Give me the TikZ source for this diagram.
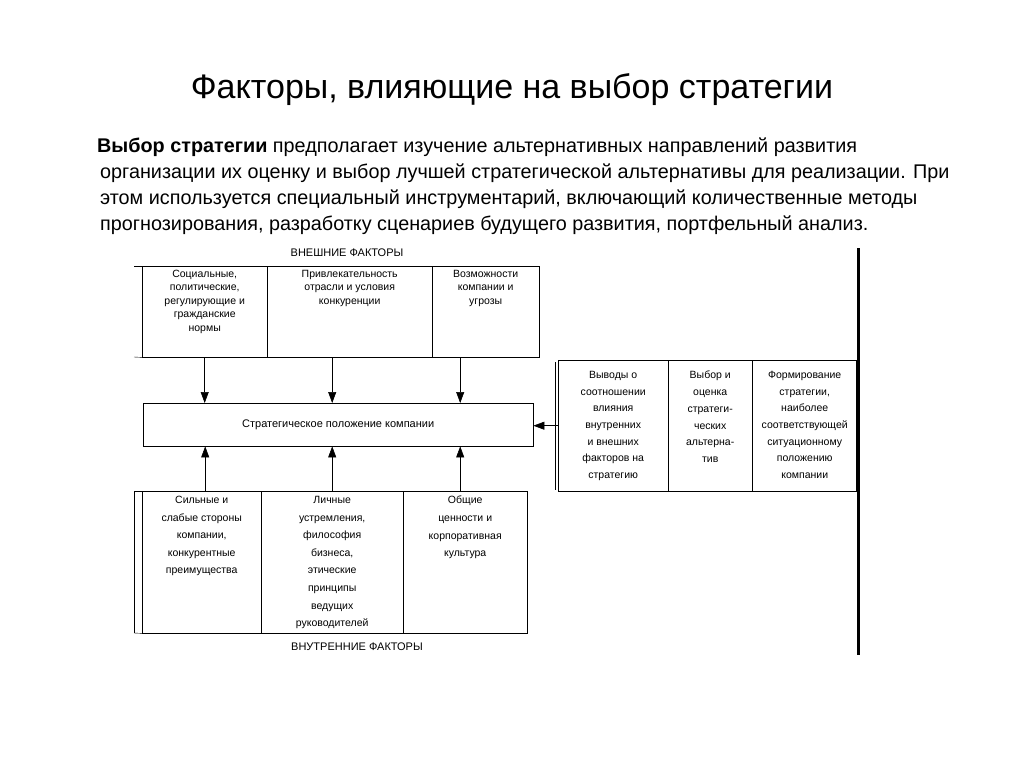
\documentclass[tikz,border=0pt]{standalone}
\usepackage{fontspec}
\setmainfont{Liberation Sans}
\usepackage{tikz}
\usetikzlibrary{arrows.meta,positioning}
\tikzstyle{arrow} = [semithick,-{Triangle[length=11pt,width=8pt]}]
\tikzstyle{cell} = [draw, anchor=north west, inner sep=0pt]
\tikzstyle{cell_text} = [inner sep=0pt, align=center, font=\fontsize{10.5}{16.7}\selectfont]
\tikzstyle{cell_text_tight} = [inner sep=0pt, align=center, font=\fontsize{10.5}{13.4}\selectfont]
\tikzstyle{cell_text_loose} = [inner sep=0pt, align=center, font=\fontsize{10.5}{17.6}\selectfont]
\tikzstyle{par_line} = [anchor=base west, inner sep=0pt, font=\fontsize{19.8}{26}\selectfont]
\tikzstyle{group_label} = [inner sep=0pt, font=\fontsize{11}{13}\selectfont]

\begin{document}
\begin{tikzpicture}[x=1pt, y=-1pt]
        \useasboundingbox (0,0) rectangle (1024,768);

        % heading and text
        \node (title) [anchor=base, inner sep=0pt, font=\fontsize{34}{40}\selectfont] at (512,98) {Факторы, влияющие на выбор стратегии};
        \node (par_1) [par_line] at (97,152) {\textbf{Выбор стратегии} предполагает изучение альтернативных направлений развития};
        \node (par_2) [par_line] at (100,178) {организации их оценку и выбор лучшей стратегической альтернативы для реализации. При};
        \node (par_3) [par_line] at (100,204) {этом используется специальный инструментарий, включающий количественные методы};
        \node (par_4) [par_line] at (100,230) {прогнозирования, разработку сценариев будущего развития, портфельный анализ.};

        % external factors
        \node (ext_label) [group_label] at (347,253) {ВНЕШНИЕ ФАКТОРЫ};
        \node (ext_left) [cell, minimum width=125pt, minimum height=91pt] at (142,266) {};
        \node (ext_mid) [cell, minimum width=165pt, minimum height=91pt] at (267,266) {};
        \node (ext_right) [cell, minimum width=107pt, minimum height=91pt] at (432,266) {};
        \draw (134,266) -- (ext_left.north west);
        \draw (134,357) -- (ext_left.south west);
        \node [cell_text_tight, below=4pt of ext_left.north] {Социальные,\\политические,\\регулирующие и\\гражданские\\нормы};
        \node [cell_text_tight, below=4pt of ext_mid.north] {Привлекательность\\отрасли и условия\\конкуренции};
        \node [cell_text_tight, below=4pt of ext_right.north] {Возможности\\компании и\\угрозы};

        % strategic situation
        \node (situation) [cell, minimum width=390pt, minimum height=43pt, font=\fontsize{11}{13}\selectfont] at (143,403) {Стратегическое положение компании};

        % strategy choice
        \node (str_left) [cell, minimum width=110pt, minimum height=131pt] at (558,360) {};
        \node (str_mid) [cell, minimum width=84pt, minimum height=131pt] at (668,360) {};
        \node (str_right) [cell, minimum width=105pt, minimum height=131pt] at (752,360) {};
        \draw (555,362) -- (555,490);
        \node [cell_text, below=11pt of str_left.north] {Выводы о\\соотношении\\влияния\\внутренних\\и внешних\\факторов на\\стратегию};
        \node [cell_text, below=11pt of str_mid.north] {Выбор и\\оценка\\стратеги-\\ческих\\альтерна-\\тив};
        \node [cell_text, below=11pt of str_right.north] {Формирование\\стратегии,\\наиболее\\соответствующей\\ситуационному\\положению\\компании};

        % internal factors
        \node (int_left) [cell, minimum width=119pt, minimum height=142pt] at (142,491) {};
        \node (int_mid) [cell, minimum width=142pt, minimum height=142pt] at (261,491) {};
        \node (int_right) [cell, minimum width=124pt, minimum height=142pt] at (403,491) {};
        \draw (134,491) -- (134,633);
        \draw (134,491) -- (int_left.north west);
        \draw (134,633) -- (int_left.south west);
        \node [cell_text_loose, below=5pt of int_left.north] {Сильные и\\слабые стороны\\компании,\\конкурентные\\преимущества};
        \node [cell_text_loose, below=5pt of int_mid.north] {Личные\\устремления,\\философия\\бизнеса,\\этические\\принципы\\ведущих\\руководителей};
        \node [cell_text_loose, below=5pt of int_right.north] {Общие\\ценности и\\корпоративная\\культура};
        \node (int_label) [group_label] at (357,647) {ВНУТРЕННИЕ ФАКТОРЫ};

        \draw [line width=3pt] (858,248) -- (858,655);
        \draw [line width=2pt] (856.5,360) -- (856.5,491);

        \draw [arrow] (ext_left.south) -- (ext_left.south |- situation.north);
        \draw [arrow] ([xshift=-17.5pt]ext_mid.south) -- ([xshift=-17.5pt]ext_mid.south |- situation.north);
        \draw [arrow] ([xshift=-25.5pt]ext_right.south) -- ([xshift=-25.5pt]ext_right.south |- situation.north);
        \draw [arrow] ([xshift=3.5pt]int_left.north) -- ([xshift=3.5pt]int_left.north |- situation.south);
        \draw [arrow] (int_mid.north) -- (int_mid.north |- situation.south);
        \draw [arrow] ([xshift=-5pt]int_right.north) -- ([xshift=-5pt]int_right.north |- situation.south);
        \draw [arrow] (str_left.west) -- (str_left.west -| situation.east);

    \end{tikzpicture}
\end{document}
